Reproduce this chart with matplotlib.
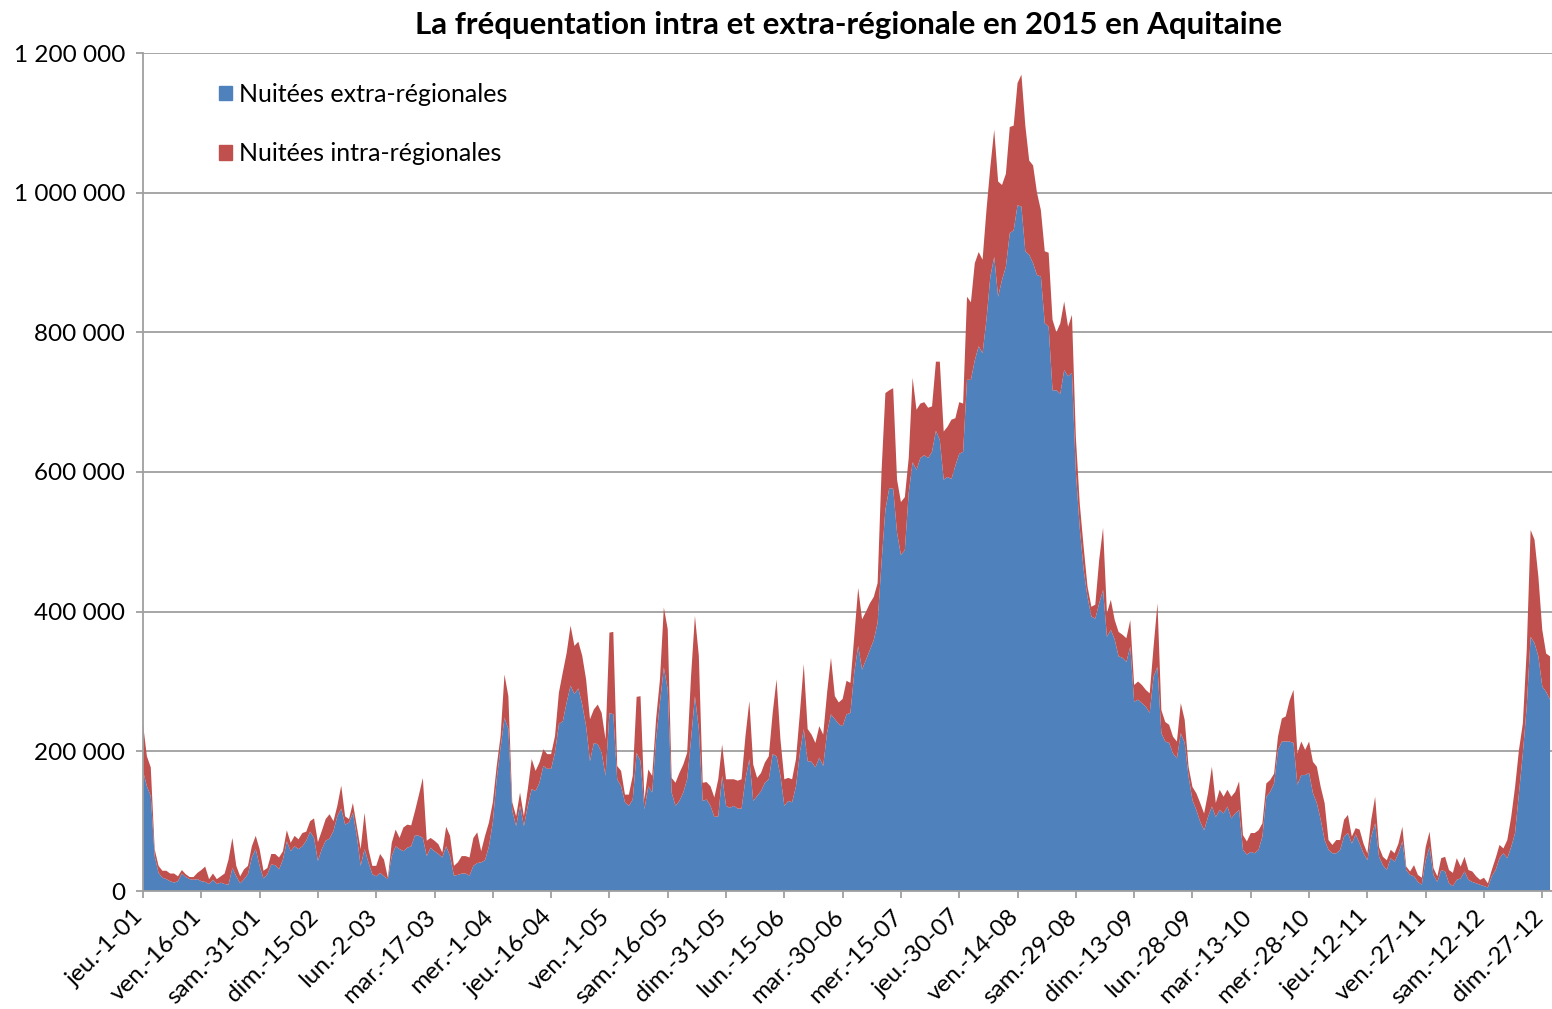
import numpy as np
import matplotlib
matplotlib.use("Agg")
import matplotlib.pyplot as plt
from matplotlib.patches import Patch
from matplotlib.ticker import FuncFormatter, MultipleLocator
from matplotlib.transforms import ScaledTranslation

plt.rcParams['font.family'] = ['Lato', 'DejaVu Sans']

# daily values 2015, in thousands of nights (total = extra + intra)
total_k = [
    239, 193, 177, 60, 36, 29, 29, 25, 25, 21, 30, 24, 20, 20, 26, 30, 35, 17, 25, 17,
    21, 25, 45, 76, 36, 21, 31, 36, 64, 79, 60, 29, 33, 53, 53, 48, 57, 87, 69, 79,
    74, 83, 85, 100, 104, 70, 86, 103, 110, 100, 122, 151, 107, 103, 126, 93, 60, 112, 60, 36,
    36, 53, 45, 19, 69, 88, 76, 91, 95, 94, 115, 138, 162, 72, 76, 72, 67, 55, 92, 79,
    36, 41, 50, 50, 48, 76, 84, 57, 79, 98, 127, 179, 222, 310, 279, 127, 107, 141, 107, 146,
    189, 172, 184, 203, 196, 196, 222, 284, 313, 341, 380, 351, 357, 337, 303, 246, 260, 267, 255, 217,
    370, 371, 179, 172, 138, 138, 165, 278, 279, 131, 174, 165, 246, 303, 406, 375, 162, 155, 169, 181,
    198, 308, 394, 337, 155, 156, 150, 134, 160, 210, 160, 160, 160, 158, 160, 222, 272, 181, 162, 169,
    184, 193, 255, 303, 217, 160, 162, 160, 189, 255, 325, 232, 224, 212, 236, 224, 284, 334, 279, 270,
    275, 301, 298, 365, 434, 389, 400, 412, 421, 441, 600, 713, 717, 720, 589, 557, 564, 620, 735, 689,
    698, 700, 692, 694, 758, 758, 658, 665, 675, 677, 700, 698, 851, 843, 899, 915, 904, 975, 1037, 1090,
    1016, 1011, 1027, 1094, 1096, 1157, 1169, 1096, 1046, 1039, 1000, 975, 916, 914, 818, 800, 813, 844, 808, 825,
    650, 555, 493, 436, 407, 410, 474, 520, 398, 417, 388, 371, 367, 362, 388, 295, 300, 295, 288, 283,
    350, 412, 259, 242, 238, 221, 214, 269, 245, 178, 149, 140, 126, 111, 140, 178, 126, 145, 135, 145,
    135, 142, 157, 80, 71, 83, 83, 87, 97, 154, 159, 168, 221, 247, 250, 273, 288, 197, 214, 202,
    214, 185, 178, 149, 126, 73, 66, 73, 73, 102, 109, 78, 90, 88, 68, 54, 102, 135, 63, 49,
    44, 59, 54, 68, 92, 35, 28, 37, 23, 19, 63, 85, 33, 21, 47, 49, 30, 26, 47, 35,
    49, 30, 28, 21, 16, 19, 11, 30, 47, 66, 61, 73, 106, 149, 202, 240, 345, 517, 503, 450,
    374, 340, 336,
]
extra_k = [
    172, 150, 136, 50, 26, 19, 17, 14, 12, 14, 25, 20, 17, 16, 17, 14, 13, 10, 16, 10,
    12, 10, 9, 33, 21, 11, 17, 24, 48, 60, 36, 18, 24, 38, 37, 31, 45, 71, 57, 64,
    60, 64, 72, 85, 76, 43, 60, 72, 75, 86, 107, 118, 95, 98, 112, 79, 36, 60, 41, 24,
    21, 26, 21, 17, 50, 64, 60, 57, 62, 64, 80, 79, 76, 50, 62, 57, 53, 48, 64, 50,
    22, 23, 25, 25, 22, 36, 40, 41, 44, 64, 98, 160, 205, 248, 232, 115, 93, 122, 93, 122,
    146, 143, 155, 179, 175, 175, 198, 239, 243, 270, 294, 282, 290, 267, 236, 186, 212, 210, 198, 165,
    255, 253, 160, 150, 127, 122, 131, 198, 186, 117, 150, 141, 217, 270, 320, 289, 141, 122, 129, 141,
    160, 217, 279, 232, 129, 131, 122, 106, 107, 165, 122, 119, 122, 118, 118, 160, 189, 129, 136, 143,
    155, 160, 196, 193, 165, 122, 129, 127, 150, 198, 232, 186, 185, 177, 191, 179, 227, 253, 246, 239,
    236, 253, 255, 313, 351, 317, 331, 345, 359, 384, 470, 546, 577, 576, 513, 481, 488, 570, 614, 603,
    620, 624, 620, 629, 659, 646, 589, 593, 590, 609, 626, 629, 732, 732, 760, 780, 770, 818, 880, 908,
    851, 875, 894, 942, 946, 982, 980, 916, 911, 899, 882, 880, 813, 808, 717, 717, 712, 746, 737, 742,
    600, 520, 460, 421, 393, 390, 412, 431, 364, 374, 360, 336, 334, 328, 350, 271, 274, 269, 264, 255,
    307, 321, 226, 214, 212, 197, 190, 226, 212, 164, 130, 116, 99, 87, 106, 121, 106, 116, 111, 121,
    104, 111, 116, 59, 52, 56, 54, 59, 78, 135, 142, 154, 202, 214, 214, 214, 212, 152, 166, 166,
    169, 140, 126, 102, 73, 59, 54, 54, 59, 78, 83, 68, 81, 68, 54, 44, 78, 97, 49, 37,
    30, 47, 42, 54, 71, 30, 23, 21, 13, 9, 44, 63, 23, 13, 30, 28, 11, 7, 16, 18,
    28, 16, 13, 11, 9, 7, 5, 21, 30, 47, 54, 47, 63, 83, 140, 197, 264, 364, 355, 336,
    293, 285, 274,
]

tick_days = list(range(0, 361, 15))
tick_labels = [
    'jeu.-1-01', 'ven.-16-01', 'sam.-31-01', 'dim.-15-02', 'lun.-2-03', 'mar.-17-03',
    'mer.-1-04', 'jeu.-16-04', 'ven.-1-05', 'sam.-16-05', 'dim.-31-05', 'lun.-15-06',
    'mar.-30-06', 'mer.-15-07', 'jeu.-30-07', 'ven.-14-08', 'sam.-29-08', 'dim.-13-09',
    'lun.-28-09', 'mar.-13-10', 'mer.-28-10', 'jeu.-12-11', 'ven.-27-11', 'sam.-12-12',
    'dim.-27-12',
]

extra = np.array(extra_k) * 1000
intra = (np.array(total_k) - np.array(extra_k)) * 1000
days = np.arange(len(extra))

blue = '#4F81BD'
red = '#C0504D'
grey = '#9f9f9f'

fig = plt.figure(figsize=(15.52, 10.09), dpi=100)
ax = fig.add_axes([143 / 1552, 1 - 891 / 1009, 1 - 143 / 1552, (891 - 53) / 1009])

ax.stackplot(days, extra, intra, colors=[blue, red], linewidth=0)

ax.set_xlim(0, 362.5)
ax.set_ylim(0, 1200000)
ax.yaxis.set_major_locator(MultipleLocator(200000))
ax.yaxis.set_major_formatter(FuncFormatter(lambda v, p: '{:,}'.format(int(v)).replace(',', ' ')))
ax.set_xticks(tick_days)
ax.set_xticklabels([])

# rotated date labels, nudged left so the last one stays inside the picture
lab_trans = ax.get_xaxis_transform() + ScaledTranslation(-0.10, -0.15, fig.dpi_scale_trans)
for d, lab in zip(tick_days, tick_labels):
    ax.text(d, 0, lab, transform=lab_trans, rotation=45, ha='right', va='top',
            rotation_mode='anchor', fontsize=17.5, clip_on=False)

ax.grid(axis='y', color=grey, linewidth=1.3)
ax.set_axisbelow(True)
for side in ['top', 'right']:
    ax.spines[side].set_visible(False)
for side in ['left', 'bottom']:
    ax.spines[side].set_color(grey)
    ax.spines[side].set_linewidth(1.3)
    ax.spines[side].set_zorder(5)
ax.tick_params(axis='y', length=5, width=1.3, color=grey, pad=8, labelsize=17.5)
ax.tick_params(axis='x', length=5, width=1.3, color=grey)

fig.text(849 / 1552, 1 - 25 / 1009, 'La fréquentation intra et extra-régionale en 2015 en Aquitaine',
         ha='center', va='center', fontsize=22.5, fontweight='bold')

handles = [Patch(color=blue, label='Nuitées extra-régionales'),
           Patch(color=red, label='Nuitées intra-régionales')]
fig.legend(handles=handles, loc='upper left', bbox_to_anchor=(219 / 1552, 1 - 83 / 1009),
           frameon=False, fontsize=18, handlelength=0.5, handleheight=0.5,
           handletextpad=0.3, labelspacing=1.45, borderpad=0, borderaxespad=0)

fig.savefig('out.png', dpi=100)
